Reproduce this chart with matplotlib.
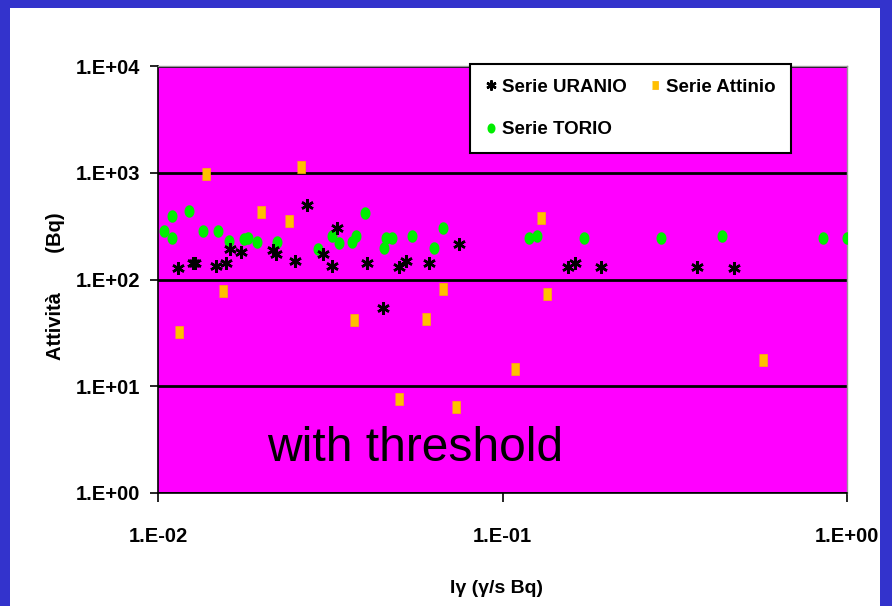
import numpy as np
import matplotlib
matplotlib.use("Agg")
from matplotlib import pyplot as plt
from matplotlib.patches import Rectangle
from matplotlib.ticker import FixedLocator, FuncFormatter, NullLocator

# data (Iγ in γ/s Bq, activity in Bq)
uranio_x = [0.0114, 0.0126, 0.0128, 0.0147, 0.0158, 0.0162, 0.0174, 0.0215, 0.0220, 0.0250,
            0.0270, 0.0330, 0.0302, 0.0319, 0.0405, 0.0451, 0.0502, 0.0525, 0.0611, 0.0746,
            0.1552, 0.1623, 0.193, 0.368, 0.470]
uranio_y = [127, 142, 142, 134, 142, 192, 182, 189, 173, 149,
            499, 302, 173, 134, 144, 54.4, 130, 149, 142, 214,
            130, 144, 130, 130, 127]

attinio_x = [0.0138, 0.0260, 0.0199, 0.0240, 0.0154, 0.0671, 0.0371, 0.0600, 0.0115, 0.0500,
             0.0731, 0.129, 0.135, 0.109, 0.571]
attinio_y = [970, 1140, 426, 355, 78, 81, 42, 43, 32, 7.6,
             6.4, 375, 73, 14.4, 17.6]

torio_x = [0.0110, 0.0123, 0.0104, 0.0110, 0.0135, 0.0149, 0.0161, 0.0178, 0.0182, 0.0194,
           0.0221, 0.0292, 0.0321, 0.0335, 0.0366, 0.0375, 0.0398, 0.0459, 0.0479, 0.0453,
           0.0546, 0.0671, 0.0631, 0.1192, 0.1257, 0.1725, 0.288, 0.433, 0.852, 1.0]
torio_y = [393, 438, 287, 243, 287, 287, 231, 238, 246, 226,
           226, 193, 256, 218, 223, 257, 417, 245, 245, 197,
           257, 302, 197, 245, 257, 245, 245, 257, 245, 245]

bold_font = ['Liberation Sans Narrow', 'Liberation Sans', 'DejaVu Sans']

fig = plt.figure(figsize=(8.92, 6.06), dpi=100, facecolor='#3333cc')
# white panel and right border strip
fig.patches.append(Rectangle((10/892, 0), 870/892, 598/606, transform=fig.transFigure,
                             facecolor='white', edgecolor='none', zorder=-1))
fig.patches.append(Rectangle((880/892, 0), 12/892, 1, transform=fig.transFigure,
                             facecolor='#3333cc', edgecolor='none', zorder=10))

ax = fig.add_axes([158/892, 113/606, 689/892, 427/606])
ax.set_facecolor('#ff00ff')
ax.set_xscale('log')
ax.set_yscale('log')
ax.set_xlim(0.01, 1)
ax.set_ylim(1, 1e4)

rect = [(-0.7, -1), (0.7, -1), (0.7, 1), (-0.7, 1)]
t = np.linspace(0, 2*np.pi, 40)
ellipse = list(zip(0.8*np.cos(t), np.sin(t)))

h_u, = ax.plot(uranio_x, uranio_y, ls='none', marker=(6, 2, 0), ms=9, mew=1.8, color='black',
               label='Serie URANIO', zorder=4)
h_a, = ax.plot(attinio_x, attinio_y, ls='none', marker=rect, ms=8, mew=0.5, color='#ffc000',
               mec='#ffb000', label='Serie Attinio', zorder=3)
h_t, = ax.plot(torio_x, torio_y, ls='none', marker=ellipse, ms=9, mew=0, color='#00ee00',
               label='Serie TORIO', zorder=3)

ax.yaxis.set_major_locator(FixedLocator([1, 10, 100, 1000, 10000]))
ax.xaxis.set_major_locator(FixedLocator([0.01, 0.1, 1]))
ax.xaxis.set_minor_locator(NullLocator())
ax.yaxis.set_minor_locator(NullLocator())
fmt = FuncFormatter(lambda v, p: "1.E%+03d" % int(round(np.log10(v))))
ax.xaxis.set_major_formatter(fmt)
ax.yaxis.set_major_formatter(fmt)
ax.grid(axis='y', color='black', lw=2)
ax.set_axisbelow(True)

ax.tick_params(axis='y', length=6, width=1.2, pad=7, direction='out')
ax.tick_params(axis='x', length=6.5, width=1.2, pad=18, direction='out')
for lab in ax.get_xticklabels() + ax.get_yticklabels():
    lab.set_family(bold_font)
    lab.set_fontweight('bold')
    lab.set_fontsize(14.5)

for s in ['top', 'right']:
    ax.spines[s].set_color('#999999')
    ax.spines[s].set_linewidth(1)
for s in ['left', 'bottom']:
    ax.spines[s].set_color('black')
    ax.spines[s].set_linewidth(1.2)

ax.set_xlabel('Iγ (γ/s Bq)', family=bold_font, fontweight='bold', fontsize=14)
ax.xaxis.set_label_coords(0.492, -0.203)
ax.set_ylabel('Attività       (Bq)', family=['Liberation Sans', 'DejaVu Sans'], fontweight='bold',
              fontsize=14.5)
ax.yaxis.set_label_coords(-0.135, 0.485)

ax.text(0.158, 0.075, 'with threshold', transform=ax.transAxes, fontsize=34.5,
        family=['Liberation Sans', 'DejaVu Sans'], va='baseline', ha='left', zorder=6)

leg = ax.legend([h_u, h_t, h_a], ['Serie URANIO', 'Serie TORIO', 'Serie Attinio'],
                loc='upper left', bbox_to_anchor=(0.4528, 1.005), ncol=2,
                prop={'family': bold_font, 'weight': 'bold', 'size': 13.5},
                frameon=True, fancybox=False, framealpha=1, edgecolor='black',
                borderpad=0.8, labelspacing=1.35, handlelength=0.6, handletextpad=0.3,
                columnspacing=1.2, markerscale=0.8, borderaxespad=0)
leg.get_frame().set_linewidth(1.5)
leg.set_zorder(7)

fig.savefig('out.png', dpi=100, facecolor=fig.get_facecolor())
